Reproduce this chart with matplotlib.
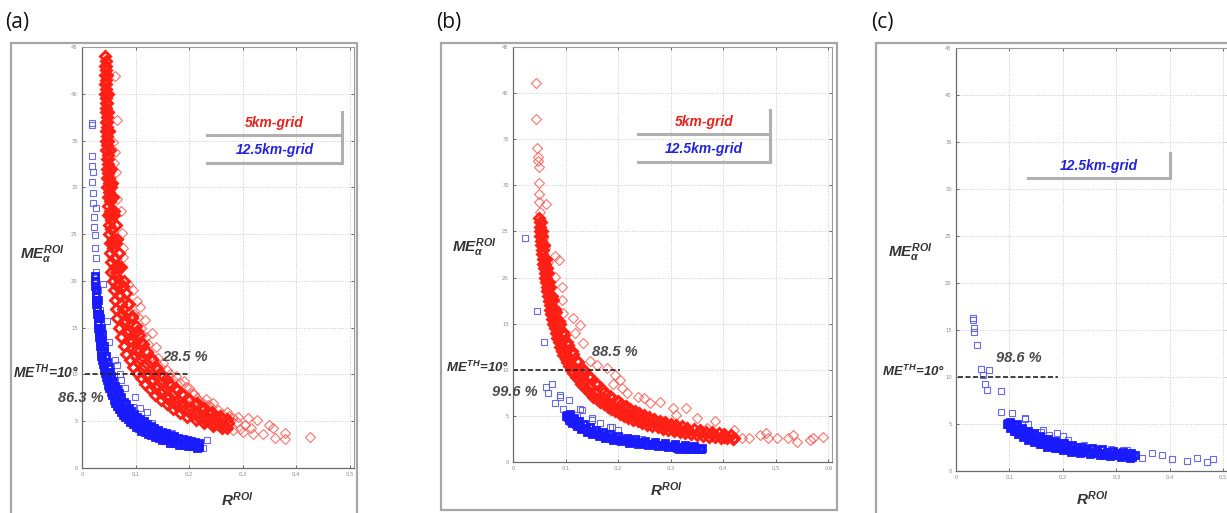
import matplotlib
matplotlib.use("Agg")
import matplotlib.pyplot as plt
from matplotlib.patches import Rectangle
from matplotlib.lines import Line2D
import numpy as np

plt.rcParams["mathtext.fontset"] = "custom"
plt.rcParams["mathtext.rm"] = "Liberation Sans:bold:italic"
plt.rcParams["mathtext.it"] = "Liberation Sans:bold:italic"
plt.rcParams["mathtext.bf"] = "Liberation Sans:bold:italic"

W, H = 1227, 513

# ---------------- data: (R_ROI, ME_alpha_ROI) ----------------
# panel (a) 5km-grid: dense band
a_red_band = [
    (0.043, 44.0), (0.043, 43.0), (0.043, 42.0), (0.043, 41.0), (0.043, 40.0), (0.044, 39.0),
    (0.044, 38.0), (0.044, 37.0), (0.045, 36.0), (0.045, 35.0), (0.045, 34.0), (0.046, 33.0),
    (0.046, 32.0), (0.047, 31.0), (0.047, 30.0), (0.048, 29.0), (0.048, 28.0), (0.049, 27.0),
    (0.050, 26.0), (0.051, 25.0), (0.052, 24.0), (0.053, 23.0), (0.054, 22.0), (0.055, 21.0),
    (0.057, 20.0), (0.059, 19.0), (0.061, 18.0), (0.063, 17.0), (0.066, 16.0), (0.069, 15.0),
    (0.073, 14.0), (0.078, 13.0), (0.083, 12.2), (0.089, 11.5), (0.095, 10.8), (0.102, 10.2),
    (0.110, 9.6), (0.118, 9.0), (0.127, 8.4), (0.137, 7.8), (0.147, 7.3), (0.158, 6.8),
    (0.170, 6.3), (0.183, 5.9), (0.197, 5.5), (0.212, 5.1), (0.228, 4.8), (0.245, 4.5), (0.262, 4.3),
    (0.045, 43.0), (0.045, 41.0), (0.046, 39.0), (0.047, 37.0), (0.048, 35.0), (0.049, 33.0),
    (0.050, 31.0), (0.052, 29.0), (0.054, 27.0), (0.056, 25.5), (0.058, 24.0), (0.061, 22.5),
    (0.064, 21.0), (0.067, 19.7), (0.071, 18.4), (0.076, 17.0), (0.081, 15.8), (0.087, 14.6),
    (0.093, 13.6), (0.100, 12.6), (0.108, 11.7), (0.116, 10.9), (0.124, 10.1), (0.133, 9.4),
    (0.142, 8.8), (0.152, 8.2), (0.163, 7.6), (0.175, 7.1), (0.187, 6.6), (0.200, 6.2),
    (0.213, 5.8), (0.227, 5.4), (0.241, 5.1), (0.255, 4.8), (0.268, 4.5),
    (0.047, 42.0), (0.048, 40.0), (0.049, 38.0), (0.051, 36.0), (0.052, 34.0), (0.054, 32.0),
    (0.056, 30.5), (0.058, 29.0), (0.060, 27.5), (0.063, 26.0), (0.066, 24.5), (0.069, 23.0),
    (0.073, 21.5), (0.078, 20.0), (0.083, 18.7), (0.088, 17.5), (0.094, 16.3), (0.100, 15.2),
    (0.107, 14.2), (0.114, 13.3), (0.122, 12.4), (0.130, 11.6), (0.139, 10.8), (0.148, 10.1),
    (0.157, 9.5), (0.167, 8.9), (0.177, 8.3), (0.188, 7.8), (0.199, 7.3), (0.211, 6.8),
    (0.223, 6.4), (0.236, 6.0), (0.249, 5.6), (0.262, 5.2), (0.272, 4.8),
    (0.044, 43.5), (0.044, 42.5), (0.044, 41.5), (0.044, 40.5), (0.045, 39.5), (0.045, 38.5),
    (0.046, 37.5), (0.046, 36.5), (0.047, 35.5), (0.047, 34.5), (0.048, 33.5), (0.048, 32.5),
    (0.049, 31.5), (0.050, 30.5), (0.051, 29.5), (0.052, 28.5), (0.053, 27.5), (0.054, 26.5),
    (0.055, 25.5), (0.057, 24.5), (0.058, 23.5), (0.060, 22.5), (0.062, 21.5), (0.064, 20.5),
    (0.066, 19.5), (0.069, 18.5), (0.072, 17.5), (0.075, 16.5), (0.079, 15.5), (0.083, 14.5),
    (0.088, 13.6), (0.093, 12.8), (0.099, 12.0), (0.105, 11.3), (0.112, 10.6), (0.120, 9.9),
    (0.128, 9.3), (0.137, 8.7), (0.146, 8.1), (0.156, 7.6), (0.167, 7.1), (0.178, 6.6),
    (0.190, 6.2), (0.203, 5.8), (0.216, 5.4), (0.230, 5.1), (0.244, 4.8), (0.258, 4.5), (0.270, 4.3),
    (0.055, 30.0), (0.059, 27.0), (0.064, 24.0), (0.070, 21.5), (0.077, 19.5), (0.085, 17.5),
    (0.093, 16.0), (0.102, 14.6), (0.111, 13.5), (0.120, 12.5), (0.130, 11.5), (0.141, 10.6),
    (0.152, 9.8), (0.163, 9.1), (0.175, 8.5), (0.187, 7.9), (0.200, 7.4), (0.214, 6.9),
    (0.228, 6.4), (0.243, 6.0), (0.258, 5.6), (0.270, 5.2),
]
a_red_scatter = [
    (0.062, 41.9), (0.065, 37.2), (0.058, 34.8), (0.062, 33.8), (0.060, 32.6), (0.063, 31.6),
    (0.065, 28.8), (0.072, 27.5), (0.074, 25.1), (0.076, 23.5), (0.077, 22.6), (0.085, 19.7),
    (0.095, 19.0), (0.102, 17.9), (0.108, 17.2), (0.105, 16.1), (0.118, 15.8), (0.130, 14.4),
    (0.112, 14.2), (0.124, 13.3), (0.139, 12.9), (0.152, 11.2), (0.158, 10.5), (0.170, 9.4),
    (0.183, 9.1), (0.195, 8.7), (0.186, 8.0), (0.205, 8.0), (0.214, 7.5), (0.226, 6.9),
    (0.220, 6.4), (0.235, 6.7), (0.254, 6.2), (0.270, 6.0), (0.282, 5.3), (0.291, 5.5),
    (0.310, 5.3), (0.326, 5.1), (0.282, 4.1), (0.300, 3.9), (0.320, 3.6), (0.338, 3.6),
    (0.350, 4.6), (0.357, 4.3), (0.360, 3.2), (0.379, 3.7), (0.379, 3.1), (0.425, 3.3),
    (0.295, 4.2), (0.250, 5.0),
    (0.098, 16.5), (0.110, 15.0), (0.115, 13.0), (0.120, 14.0), (0.128, 12.0), (0.135, 11.5),
    (0.142, 11.8), (0.146, 10.8), (0.165, 10.0), (0.175, 9.8), (0.190, 9.3), (0.200, 8.5),
    (0.196, 7.6), (0.210, 7.9), (0.218, 7.2), (0.232, 7.4), (0.240, 6.5), (0.245, 6.9),
    (0.262, 5.8), (0.275, 5.6), (0.290, 4.9), (0.305, 4.6), (0.315, 4.3),
]
# panel (a) 12.5km-grid
a_blue_band = [
    (0.024, 20.5), (0.025, 19.5), (0.026, 18.5), (0.027, 17.5), (0.028, 16.5), (0.029, 15.5),
    (0.031, 14.5), (0.033, 13.5), (0.035, 12.5), (0.038, 11.5), (0.041, 10.6), (0.045, 9.7),
    (0.049, 8.9), (0.054, 8.1), (0.060, 7.3), (0.066, 6.6), (0.073, 6.0), (0.081, 5.4),
    (0.090, 4.9), (0.100, 4.4), (0.111, 4.0), (0.123, 3.6), (0.136, 3.3), (0.150, 3.0),
    (0.165, 2.7), (0.181, 2.5), (0.198, 2.3), (0.214, 2.1),
    (0.027, 19.0), (0.028, 17.5), (0.030, 16.0), (0.032, 14.5), (0.035, 13.2), (0.038, 12.0),
    (0.042, 11.0), (0.047, 10.0), (0.052, 9.0), (0.058, 8.1), (0.065, 7.3), (0.073, 6.5),
    (0.082, 5.8), (0.092, 5.2), (0.103, 4.7), (0.115, 4.25), (0.128, 3.85), (0.142, 3.5),
    (0.157, 3.2), (0.172, 2.95), (0.188, 2.7), (0.204, 2.5), (0.218, 2.35),
    (0.030, 18.0), (0.032, 16.5), (0.035, 15.0), (0.038, 13.7), (0.042, 12.5), (0.047, 11.3),
    (0.052, 10.3), (0.058, 9.3), (0.065, 8.4), (0.073, 7.6), (0.082, 6.8), (0.092, 6.1),
    (0.103, 5.5), (0.115, 5.0), (0.128, 4.5), (0.142, 4.1), (0.157, 3.7), (0.172, 3.4),
    (0.188, 3.1), (0.204, 2.9), (0.218, 2.7),
    (0.025, 20.0), (0.026, 19.0), (0.027, 18.0), (0.028, 17.0), (0.029, 16.0), (0.030, 15.0),
    (0.032, 14.0), (0.034, 13.0), (0.036, 12.0), (0.039, 11.1), (0.043, 10.2), (0.047, 9.4),
    (0.051, 8.6), (0.056, 7.8), (0.062, 7.0), (0.069, 6.3), (0.077, 5.7), (0.086, 5.2),
    (0.095, 4.7), (0.106, 4.3), (0.117, 3.9), (0.129, 3.55), (0.143, 3.25), (0.157, 2.95),
    (0.172, 2.7), (0.188, 2.5), (0.204, 2.3), (0.219, 2.2),
    (0.033, 16.0), (0.037, 14.3), (0.041, 13.0), (0.045, 12.0), (0.050, 10.8), (0.055, 9.8),
    (0.062, 8.8), (0.069, 8.0), (0.078, 7.1), (0.087, 6.4), (0.097, 5.8), (0.109, 5.2),
    (0.121, 4.75), (0.135, 4.3), (0.149, 3.9), (0.164, 3.55), (0.180, 3.25), (0.196, 3.0),
    (0.211, 2.8),
]
a_blue_scatter = [
    (0.018, 36.7), (0.018, 36.9), (0.018, 33.4), (0.018, 32.3), (0.020, 31.6), (0.018, 30.6),
    (0.020, 29.4), (0.020, 28.3), (0.027, 27.8), (0.022, 26.8), (0.022, 25.8), (0.024, 24.9),
    (0.024, 23.5), (0.026, 22.4), (0.027, 21.0), (0.027, 20.1), (0.039, 19.7), (0.030, 19.0),
    (0.030, 18.0), (0.034, 16.9), (0.046, 15.7), (0.050, 13.5), (0.062, 11.5), (0.065, 11.0),
    (0.071, 10.1), (0.072, 9.4), (0.080, 8.5), (0.099, 7.6), (0.095, 6.5), (0.108, 6.4),
    (0.121, 6.0), (0.130, 4.8), (0.151, 3.9), (0.168, 3.7), (0.200, 3.0), (0.233, 3.0),
    (0.226, 2.1), (0.217, 2.3),
]

# panel (b) 5km-grid
b_red_band = [
    (0.050, 26.5), (0.051, 25.5), (0.052, 24.5), (0.054, 23.5), (0.056, 22.5), (0.058, 21.5),
    (0.060, 20.5), (0.062, 19.5), (0.065, 18.5), (0.068, 17.5), (0.071, 16.5), (0.075, 15.5),
    (0.079, 14.5), (0.084, 13.5), (0.090, 12.5), (0.096, 11.6), (0.103, 10.8), (0.111, 10.0),
    (0.120, 9.2), (0.130, 8.5), (0.141, 7.8), (0.153, 7.1), (0.166, 6.5), (0.180, 6.0),
    (0.195, 5.5), (0.211, 5.0), (0.228, 4.6), (0.246, 4.25), (0.265, 3.9), (0.285, 3.6),
    (0.306, 3.35), (0.328, 3.1), (0.350, 2.9), (0.373, 2.75), (0.396, 2.6), (0.418, 2.5),
    (0.053, 26.0), (0.055, 24.5), (0.057, 23.0), (0.060, 21.5), (0.063, 20.0), (0.066, 18.8),
    (0.070, 17.6), (0.074, 16.4), (0.079, 15.3), (0.085, 14.2), (0.091, 13.2), (0.098, 12.2),
    (0.106, 11.3), (0.115, 10.4), (0.125, 9.6), (0.135, 8.9), (0.146, 8.2), (0.158, 7.5),
    (0.171, 6.9), (0.185, 6.3), (0.200, 5.8), (0.216, 5.35), (0.233, 4.95), (0.251, 4.55),
    (0.270, 4.2), (0.290, 3.9), (0.311, 3.6), (0.333, 3.35), (0.356, 3.1), (0.379, 2.9),
    (0.402, 2.75), (0.420, 2.65),
    (0.056, 25.0), (0.059, 23.5), (0.062, 22.0), (0.066, 20.5), (0.071, 19.0), (0.076, 17.6),
    (0.082, 16.3), (0.089, 15.0), (0.097, 13.8), (0.105, 12.7), (0.114, 11.7), (0.124, 10.8),
    (0.135, 9.9), (0.147, 9.1), (0.160, 8.3), (0.174, 7.6), (0.189, 6.9), (0.205, 6.3),
    (0.222, 5.8), (0.240, 5.3), (0.259, 4.9), (0.279, 4.5), (0.300, 4.15), (0.322, 3.85),
    (0.345, 3.55), (0.368, 3.3), (0.392, 3.1), (0.415, 2.95),
    (0.051, 26.0), (0.052, 25.0), (0.053, 24.0), (0.055, 23.0), (0.057, 22.0), (0.059, 21.0),
    (0.061, 20.0), (0.064, 19.0), (0.067, 18.0), (0.070, 17.0), (0.073, 16.0), (0.077, 15.0),
    (0.082, 14.0), (0.087, 13.0), (0.093, 12.0), (0.100, 11.2), (0.107, 10.4), (0.115, 9.6),
    (0.125, 8.85), (0.135, 8.15), (0.147, 7.45), (0.159, 6.8), (0.173, 6.25), (0.187, 5.75),
    (0.203, 5.25), (0.219, 4.8), (0.237, 4.4), (0.255, 4.05), (0.275, 3.75), (0.295, 3.48),
    (0.317, 3.22), (0.339, 3.0), (0.362, 2.82), (0.385, 2.68), (0.408, 2.56),
    (0.064, 21.0), (0.069, 19.5), (0.074, 18.0), (0.080, 16.6), (0.087, 15.3), (0.095, 14.1),
    (0.103, 13.0), (0.112, 12.0), (0.122, 11.0), (0.133, 10.1), (0.145, 9.3), (0.157, 8.6),
    (0.170, 7.9), (0.184, 7.2), (0.199, 6.6), (0.215, 6.05), (0.232, 5.55), (0.250, 5.1),
    (0.269, 4.7), (0.289, 4.35), (0.310, 4.0), (0.332, 3.7), (0.355, 3.45), (0.378, 3.2),
    (0.402, 3.0),
]
b_red_scatter = [
    (0.044, 41.1), (0.044, 37.2), (0.046, 34.0), (0.048, 33.1), (0.048, 32.6), (0.049, 32.0),
    (0.050, 30.2), (0.050, 29.1), (0.049, 28.2), (0.062, 28.0), (0.051, 27.1), (0.053, 26.0),
    (0.056, 25.2), (0.057, 24.3), (0.060, 23.2), (0.080, 22.3), (0.088, 21.9), (0.066, 21.7),
    (0.080, 20.1), (0.093, 19.0), (0.093, 17.6), (0.096, 16.2), (0.114, 15.6), (0.127, 14.9),
    (0.118, 14.0), (0.133, 12.9), (0.146, 10.9), (0.160, 10.5), (0.178, 10.2), (0.194, 9.4),
    (0.203, 8.9), (0.190, 8.5), (0.207, 8.0), (0.216, 7.5), (0.238, 7.1), (0.250, 6.9),
    (0.260, 6.4), (0.280, 6.5), (0.305, 5.9), (0.330, 5.9), (0.311, 5.1), (0.350, 4.8),
    (0.384, 4.4), (0.420, 3.5), (0.450, 2.6), (0.470, 2.9), (0.482, 3.1), (0.485, 2.6),
    (0.503, 2.6), (0.523, 2.6), (0.532, 2.9), (0.540, 2.2), (0.565, 2.4), (0.571, 2.6),
    (0.590, 2.7), (0.435, 2.6), (0.370, 3.7),
]
# panel (b) 12.5km-grid
b_blue_band = [
    (0.100, 5.0), (0.106, 4.6), (0.113, 4.2), (0.121, 3.9), (0.130, 3.6), (0.140, 3.3),
    (0.151, 3.05), (0.163, 2.8), (0.176, 2.6), (0.190, 2.4), (0.205, 2.25), (0.221, 2.1),
    (0.238, 1.95), (0.256, 1.82), (0.275, 1.7), (0.294, 1.6), (0.313, 1.5), (0.332, 1.42),
    (0.350, 1.36),
    (0.104, 4.9), (0.111, 4.5), (0.119, 4.15), (0.128, 3.85), (0.138, 3.55), (0.149, 3.27),
    (0.161, 3.02), (0.174, 2.8), (0.188, 2.6), (0.203, 2.43), (0.219, 2.28), (0.236, 2.13),
    (0.254, 2.0), (0.273, 1.88), (0.292, 1.77), (0.311, 1.67), (0.330, 1.58), (0.348, 1.5),
    (0.108, 5.2), (0.116, 4.8), (0.125, 4.45), (0.135, 4.1), (0.146, 3.8), (0.158, 3.5),
    (0.171, 3.25), (0.185, 3.0), (0.200, 2.8), (0.216, 2.6), (0.233, 2.45), (0.251, 2.3),
    (0.270, 2.15), (0.289, 2.02), (0.308, 1.9), (0.327, 1.8), (0.345, 1.7), (0.360, 1.55),
    (0.315, 1.45), (0.330, 1.42), (0.345, 1.42), (0.358, 1.42),
    (0.102, 5.1), (0.109, 4.7), (0.117, 4.35), (0.125, 4.0), (0.134, 3.7), (0.145, 3.4),
    (0.156, 3.15), (0.168, 2.9), (0.182, 2.7), (0.196, 2.5), (0.212, 2.35), (0.228, 2.2),
    (0.246, 2.05), (0.265, 1.92), (0.284, 1.8), (0.303, 1.7), (0.322, 1.6), (0.340, 1.52),
    (0.356, 1.45),
]
b_blue_scatter = [
    (0.023, 24.3), (0.045, 16.4), (0.059, 13.0), (0.063, 8.1), (0.074, 8.5), (0.067, 7.5),
    (0.080, 6.4), (0.089, 7.1), (0.106, 6.7), (0.095, 5.8), (0.131, 5.6), (0.122, 5.1),
    (0.150, 4.6), (0.165, 4.2), (0.184, 3.8), (0.200, 3.5), (0.245, 2.5), (0.127, 5.8),
    (0.150, 4.8), (0.188, 3.8), (0.089, 7.3),
]

# panel (c) 12.5km-grid
c_blue_band = [
    (0.095, 5.0), (0.101, 4.6), (0.108, 4.25), (0.116, 3.9), (0.125, 3.6), (0.135, 3.3),
    (0.146, 3.05), (0.158, 2.82), (0.171, 2.6), (0.185, 2.4), (0.200, 2.22), (0.216, 2.06),
    (0.233, 1.92), (0.251, 1.8), (0.270, 1.68), (0.289, 1.58), (0.308, 1.5), (0.326, 1.42),
    (0.098, 5.1), (0.105, 4.7), (0.113, 4.37), (0.122, 4.05), (0.132, 3.75), (0.143, 3.47),
    (0.155, 3.21), (0.168, 2.97), (0.182, 2.75), (0.197, 2.55), (0.213, 2.38), (0.230, 2.22),
    (0.248, 2.07), (0.267, 1.94), (0.286, 1.82), (0.305, 1.71), (0.323, 1.6),
    (0.102, 5.2), (0.110, 4.85), (0.119, 4.5), (0.129, 4.2), (0.140, 3.9), (0.152, 3.62),
    (0.165, 3.36), (0.179, 3.12), (0.194, 2.9), (0.210, 2.7), (0.227, 2.52), (0.245, 2.36),
    (0.264, 2.2), (0.283, 2.06), (0.302, 1.94), (0.320, 1.82), (0.335, 1.7),
    (0.097, 5.0), (0.103, 4.65), (0.111, 4.3), (0.119, 4.0), (0.128, 3.7), (0.138, 3.4),
    (0.150, 3.15), (0.162, 2.9), (0.176, 2.68), (0.191, 2.48), (0.206, 2.3), (0.223, 2.14),
    (0.240, 2.0), (0.258, 1.87), (0.277, 1.75), (0.296, 1.65), (0.314, 1.55), (0.330, 1.5),
    (0.115, 5.0), (0.124, 4.6), (0.134, 4.3), (0.146, 4.0), (0.158, 3.7), (0.172, 3.45),
    (0.186, 3.2), (0.202, 3.0), (0.218, 2.8), (0.236, 2.6), (0.254, 2.45), (0.274, 2.3),
    (0.293, 2.15), (0.312, 2.0), (0.328, 1.9),
]
c_blue_scatter = [
    (0.032, 16.3), (0.032, 16.1), (0.034, 15.2), (0.034, 14.8), (0.039, 13.4), (0.047, 10.9),
    (0.062, 10.7), (0.050, 10.2), (0.054, 9.3), (0.058, 8.6), (0.084, 8.5), (0.084, 6.3),
    (0.104, 6.2), (0.129, 5.6), (0.163, 4.4), (0.189, 4.0), (0.130, 5.5), (0.135, 5.0),
    (0.160, 4.2), (0.175, 3.8), (0.200, 3.7), (0.210, 3.3), (0.240, 2.8), (0.260, 2.5),
    (0.290, 2.3), (0.313, 2.2), (0.320, 2.2), (0.348, 1.4), (0.367, 1.9), (0.386, 1.7),
    (0.404, 1.3), (0.432, 1.1), (0.451, 1.4), (0.470, 1.0), (0.481, 1.3),
]

# annotations
me_threshold = 10
pct_labels = {"a": ("28.5 %", "86.3 %"), "b": ("88.5 %", "99.6 %"), "c": ("98.6 %",)}
legend_5km = "5km-grid"
legend_12km = "12.5km-grid"

RED = "#ff1f14"
RED_LIGHT = "#f45a55"
BLUE = "#1a1aff"
BLUE_LIGHT = "#5a5ae8"


def fx(px):
    return px / W


def fy(py):
    return 1 - py / H


fig = plt.figure(figsize=(W / 100, H / 100), dpi=100)
fig.patch.set_facecolor("white")


def frame(x0, y0, x1, y1):
    fig.patches.append(Rectangle((fx(x0), fy(y1)), fx(x1) - fx(x0), fy(y0) - fy(y1),
                                 transform=fig.transFigure, fill=False,
                                 edgecolor="#a6a6a6", lw=1.6))


def make_axes(l, t, r, b, xmax, xticks):
    ax = fig.add_axes([fx(l), fy(b), (r - l) / W, (b - t) / H])
    ax.set_xlim(0, xmax)
    ax.set_ylim(0, 45)
    ax.set_xticks(xticks)
    ax.set_xticklabels(["0" if v == 0 else ("%.1f" % v).replace(".", ",") for v in xticks])
    ax.set_yticks(np.arange(0, 46, 5))
    ax.set_yticklabels([str(v) for v in range(0, 46, 5)])
    ax.tick_params(direction="in", length=2.5, width=0.6, labelsize=3.8,
                   colors="#555555", labelcolor="#8a8a8a", top=True, right=True, pad=3)
    ax.grid(True, color="#c9c9c9", linestyle=":", linewidth=0.7)
    ax.set_axisbelow(True)
    for side in ("left", "bottom"):
        ax.spines[side].set_color("#6a6a6a")
        ax.spines[side].set_linewidth(0.9)
    for side in ("top", "right"):
        ax.spines[side].set_color("#9a9a9a")
        ax.spines[side].set_linewidth(0.8)
    return ax


def draw(ax, pts, marker, color, ms, mew, alpha=1.0):
    x = [p[0] for p in pts]
    y = [p[1] for p in pts]
    ax.plot(x, y, linestyle="none", marker=marker, markersize=ms, markerfacecolor="none",
            markeredgecolor=color, markeredgewidth=mew, alpha=alpha, clip_on=False)


def legend_row(x0, x1, y0, y1, text, color):
    fig.add_artist(Line2D([fx(x0), fx(x1)], [fy(y1), fy(y1)], transform=fig.transFigure,
                          color="#b0b0b0", lw=2.2))
    fig.add_artist(Line2D([fx(x1), fx(x1)], [fy(y0), fy(y1)], transform=fig.transFigure,
                          color="#b0b0b0", lw=2.2))
    fig.text(fx((x0 + x1) / 2), fy((y0 + y1) / 2), text, color=color, fontsize=10,
             fontweight="bold", style="italic", family="Liberation Sans",
             ha="center", va="center")


label_kw = dict(color="#333333", fontweight="bold", style="italic", family="Liberation Sans")
pct_kw = dict(color="#4a4a4a", fontsize=10.5, fontweight="bold", style="italic",
              family="Liberation Sans", va="center")

# ---------------- panel (a) ----------------
frame(11, 43, 357, 530)
axa = make_axes(82, 47, 354, 468, 0.508, [0, 0.1, 0.2, 0.3, 0.4, 0.5])
draw(axa, a_red_scatter, "D", RED_LIGHT, 4.6, 0.8, 0.85)
draw(axa, a_red_band, "D", RED, 5.0, 2.1)
draw(axa, a_blue_scatter, "s", BLUE_LIGHT, 4.0, 0.8, 0.9)
draw(axa, a_blue_band, "s", BLUE, 4.4, 2.0)
axa.plot([0.005, 0.2], [me_threshold, me_threshold], color="#222222", lw=1.2,
         linestyle=(0, (3, 1.5)), clip_on=False)
fig.text(fx(5), fy(23), "(a)", fontsize=15, family="Open Sans", va="center", color="#111111")
fig.text(fx(20), fy(255), r"$ME_{\alpha}^{ROI}$", fontsize=11, va="center", ha="left", **label_kw)
fig.text(fx(13), fy(372), r"$ME^{TH}$=10°", fontsize=10, va="center", ha="left", **label_kw)
fig.text(fx(238), fy(500), r"$R^{ROI}$", fontsize=11, va="center", ha="center", **label_kw)
fig.text(fx(162), fy(357), pct_labels["a"][0], ha="left", **pct_kw)
fig.text(fx(58), fy(398), pct_labels["a"][1], ha="left", **pct_kw)
legend_row(207, 342, 112, 135, legend_5km, "#e8201a")
legend_row(207, 342, 137, 163, legend_12km, "#2323d8")

# ---------------- panel (b) ----------------
frame(441, 43, 837, 510)
axb = make_axes(513, 47, 832, 462, 0.607, [0, 0.1, 0.2, 0.3, 0.4, 0.5, 0.6])
draw(axb, b_red_scatter, "D", RED_LIGHT, 4.6, 0.8, 0.85)
draw(axb, b_red_band, "D", RED, 5.0, 2.1)
draw(axb, b_blue_scatter, "s", BLUE_LIGHT, 4.0, 0.8, 0.9)
draw(axb, b_blue_band, "s", BLUE, 4.4, 2.0)
axb.plot([0.0, 0.203], [me_threshold, me_threshold], color="#222222", lw=1.2,
         linestyle=(0, (3, 1.5)), clip_on=False)
fig.text(fx(436), fy(23), "(b)", fontsize=15, family="Open Sans", va="center", color="#111111")
fig.text(fx(452), fy(248), r"$ME_{\alpha}^{ROI}$", fontsize=11, va="center", ha="left", **label_kw)
fig.text(fx(446), fy(367), r"$ME^{TH}$=10°", fontsize=9.5, va="center", ha="left", **label_kw)
fig.text(fx(667), fy(490), r"$R^{ROI}$", fontsize=11, va="center", ha="center", **label_kw)
fig.text(fx(592), fy(352), pct_labels["b"][0], ha="left", **pct_kw)
fig.text(fx(492), fy(392), pct_labels["b"][1], ha="left", **pct_kw)
legend_row(638, 770, 110, 134, legend_5km, "#e8201a")
legend_row(638, 770, 136, 162, legend_12km, "#2323d8")

# ---------------- panel (c) ----------------
frame(876, 43, 1240, 530)
axc = make_axes(956, 48, 1229, 471, 0.511, [0, 0.1, 0.2, 0.3, 0.4, 0.5])
draw(axc, c_blue_scatter, "s", BLUE_LIGHT, 4.0, 0.8, 0.9)
draw(axc, c_blue_band, "s", BLUE, 4.4, 2.0)
axc.plot([0.004, 0.19], [me_threshold, me_threshold], color="#222222", lw=1.2,
         linestyle=(0, (3, 1.5)), clip_on=False)
fig.text(fx(871), fy(23), "(c)", fontsize=15, family="Open Sans", va="center", color="#111111")
fig.text(fx(888), fy(253), r"$ME_{\alpha}^{ROI}$", fontsize=11, va="center", ha="left", **label_kw)
fig.text(fx(882), fy(371), r"$ME^{TH}$=10°", fontsize=9.5, va="center", ha="left", **label_kw)
fig.text(fx(1093), fy(499), r"$R^{ROI}$", fontsize=11, va="center", ha="center", **label_kw)
fig.text(fx(996), fy(358), pct_labels["c"][0], ha="left", **pct_kw)
legend_row(1028, 1170, 153, 178, legend_12km, "#2323d8")

fig.savefig("out.png", dpi=100, facecolor="white")
